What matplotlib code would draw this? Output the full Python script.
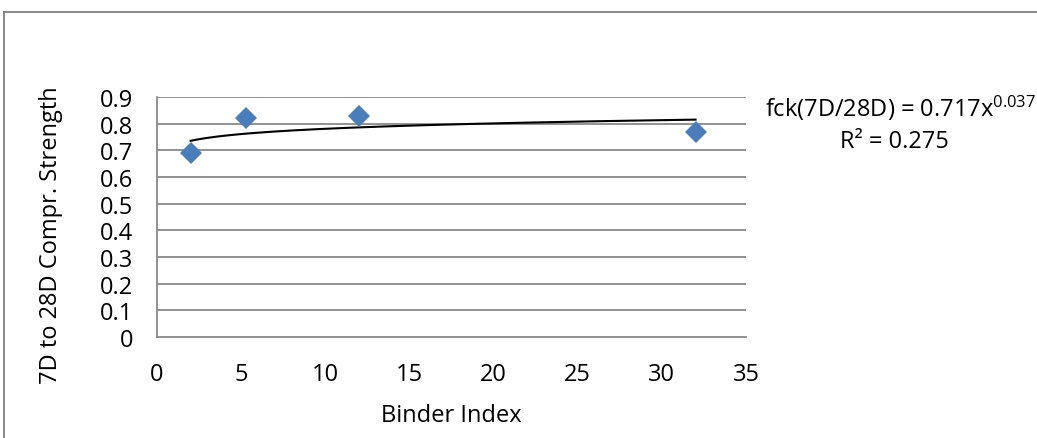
import numpy as np
import matplotlib.pyplot as plt
from matplotlib.lines import Line2D

plt.rcParams['font.family'] = ['Open Sans', 'DejaVu Sans']
plt.rcParams['mathtext.fontset'] = 'custom'
plt.rcParams['mathtext.rm'] = 'Open Sans'
plt.rcParams['mathtext.it'] = 'Open Sans'

# data
binder_index = [2, 5.3, 12, 32]
strength_ratio = [0.69, 0.82, 0.83, 0.77]

# power trendline as printed on the chart
coef_a = 0.717
coef_b = 0.037
r_squared = 0.275

x_ticks = [0, 5, 10, 15, 20, 25, 30, 35]
y_ticks = [0, 0.1, 0.2, 0.3, 0.4, 0.5, 0.6, 0.7, 0.8, 0.9]

fs = 17

fig = plt.figure(figsize=(10.37, 4.39), dpi=100)
ax = fig.add_axes([0.1514, 0.2301, 0.568, 0.5467])

grid_col = '#898989'
for yt in y_ticks[1:]:
    ax.axhline(yt, color=grid_col, lw=1.3, zorder=1)

xs = np.linspace(min(binder_index), max(binder_index), 200)
ax.plot(xs, coef_a * xs ** coef_b, color='black', lw=1.5, zorder=2)
ax.plot(binder_index, strength_ratio, 'D', color='#4a7ebb', markersize=11.5,
        markeredgewidth=0, zorder=3)

ax.set_xlim(0, 35)
ax.set_ylim(0, 0.9)
ax.set_xticks(x_ticks)
ax.set_yticks(y_ticks)
ax.set_yticklabels(['0' if v == 0 else f'{v:g}' for v in y_ticks])
ax.tick_params(length=0, labelsize=fs)
ax.tick_params(axis='x', pad=18)
ax.tick_params(axis='y', pad=17)
for s in ['top', 'right']:
    ax.spines[s].set_visible(False)
for s in ['left', 'bottom']:
    ax.spines[s].set_color(grid_col)
    ax.spines[s].set_linewidth(1.3)

ax.set_xlabel('Binder Index', fontsize=fs, va='baseline')
ax.xaxis.set_label_coords(0.5, -0.35)
ax.set_ylabel('7D to 28D Compr. Strength', fontsize=fs, va='center')
ax.yaxis.set_label_coords(-0.18, 0.43)

fig.text(0.868, 0.7335, 'fck(7D/28D) = %.3fx$^{%.3f}$' % (coef_a, coef_b),
         fontsize=fs, ha='center', va='baseline')
fig.text(0.863, 0.663, 'R² = %.3f' % r_squared, fontsize=fs,
         ha='center', va='baseline')

# outer chart border (top and left edges visible)
fig.add_artist(Line2D([0.004, 1.0], [0.970, 0.970], color='#7f7f7f', lw=1.3))
fig.add_artist(Line2D([0.004, 0.004], [0.0, 0.970], color='#7f7f7f', lw=1.3))

fig.savefig('out.png', dpi=100)
